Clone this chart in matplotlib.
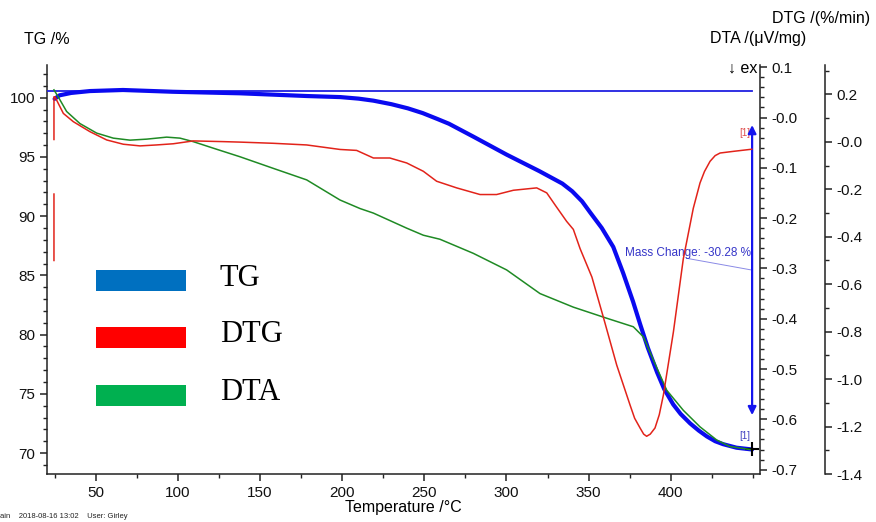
import numpy as np
import matplotlib
matplotlib.use("Agg")
import matplotlib.pyplot as plt
from matplotlib.patches import Rectangle
from matplotlib.ticker import FixedLocator, FormatStrFormatter

plt.rcParams['font.family'] = ['Liberation Sans', 'DejaVu Sans']
plt.rcParams['axes.unicode_minus'] = False

# ---------------- data ----------------
tg_temp = [25, 28, 35, 46.5, 66.6, 97, 138, 178.6, 199, 210, 219, 230, 240, 249, 258,
           265, 280, 300, 320, 328, 334, 340, 346, 351, 358, 365, 371, 377, 381.3,
           386, 391.7, 396, 401.5, 406, 411.8, 417, 422, 427, 431.8, 440, 449.5]
tg_val = [99.9, 100.2, 100.4, 100.56, 100.65, 100.5, 100.37, 100.14, 100.05, 99.92,
          99.75, 99.45, 99.1, 98.7, 98.2, 97.8, 96.7, 95.2, 93.8, 93.2, 92.75, 92.1,
          91.25, 90.3, 89.0, 87.4, 85.2, 82.8, 80.9, 78.9, 76.8, 75.4, 74.1, 73.3,
          72.5, 71.9, 71.4, 71.0, 70.75, 70.45, 70.30]

dtg_temp = [24.6, 24.6, 24.6, 24.6, 24.6, 25.2, 30.3, 36.4, 46.5, 56.7, 66.8, 77, 87,
            97.2, 109.4, 127.7, 137.8, 158, 178.4, 198.7, 208.8, 219, 229, 239.3,
            249.4, 257.5, 269.7, 283.9, 294, 304.2, 318.4, 324.5, 330, 336.6, 340.7,
            344.8, 352, 359, 367.1, 375.2, 378, 381.3, 383.5, 385.3, 387.5, 390.4,
            393, 395.5, 401.6, 407.6, 413.7, 417.8, 420.5, 423.9, 427, 430, 438.1,
            449.3]
dtg_val = [-0.50, -0.22, np.nan, 0.01, 0.19, 0.19, 0.12, 0.085, 0.043, 0.008, -0.010,
           -0.017, -0.013, -0.008, 0.004, 0.001, -0.001, -0.006, -0.013, -0.032,
           -0.036, -0.068, -0.068, -0.089, -0.124, -0.166, -0.194, -0.222, -0.222,
           -0.204, -0.194, -0.215, -0.27, -0.335, -0.369, -0.45, -0.57, -0.74, -0.941,
           -1.109, -1.165, -1.206, -1.232, -1.241, -1.232, -1.206, -1.15, -1.067,
           -0.801, -0.494, -0.28, -0.173, -0.125, -0.082, -0.058, -0.047, -0.040,
           -0.031]

dta_temp = [24.6, 27.2, 32.3, 40.4, 50.6, 60.7, 70.9, 81, 93.2, 101.3, 109.4, 121.6,
            137.8, 158, 178.4, 198.7, 210.9, 219, 239.3, 249.4, 259.5, 279.8, 300.1,
            320.4, 340.7, 361, 377.2, 383.3, 389.4, 397.5, 407.6, 417.8, 427.9, 436,
            448.2]
dta_val = [0.055, 0.041, 0.012, -0.012, -0.031, -0.041, -0.045, -0.043, -0.039, -0.041,
           -0.048, -0.061, -0.078, -0.101, -0.124, -0.164, -0.181, -0.190, -0.220,
           -0.234, -0.242, -0.270, -0.303, -0.350, -0.377, -0.399, -0.416, -0.436,
           -0.482, -0.542, -0.582, -0.615, -0.641, -0.654, -0.660]

legend_labels = ["TG", "DTG", "DTA"]
mass_change_text = "Mass Change: -30.28 %"
baseline_tg = 100.58
end_tg = 70.30

# ---------------- figure ----------------
W, H = 876, 522
fig = plt.figure(figsize=(W / 100, H / 100), dpi=100)
L, R, T, B = 47, 760, 65, 474
ax = fig.add_axes([L / W, 1 - B / H, (R - L) / W, (B - T) / H])
ax2 = ax.twinx()
ax3 = ax.twinx()

blue = '#0a0af0'
red = '#e2231a'
green = '#1f8a24'

ax.plot(tg_temp, tg_val, color=blue, lw=3.0, zorder=5, solid_capstyle='round',
        solid_joinstyle='round')
ax2.plot(dta_temp, dta_val, color=green, lw=1.1)
ax3.plot(dtg_temp, dtg_val, color=red, lw=1.1)

ax.set_xlim(20.36, 454.3)
ax.set_ylim(68.23, 102.76)
ax2.set_ylim(-0.7087, 0.1044)
ax3.set_ylim(-1.4, 0.324)

# spines
for a in (ax, ax2, ax3):
    a.spines['top'].set_visible(False)
    for s in a.spines.values():
        s.set_linewidth(1.1)
        s.set_color('#222222')
ax.spines['right'].set_visible(False)
for a in (ax2, ax3):
    a.spines['left'].set_visible(False)
    a.spines['bottom'].set_visible(False)
ax3.spines['right'].set_position(('outward', 65 * 0.72))

# ticks
ax.xaxis.set_major_locator(FixedLocator(np.arange(50, 401, 50)))
ax.xaxis.set_minor_locator(FixedLocator(np.arange(25, 451, 25)))
ax.yaxis.set_major_locator(FixedLocator(np.arange(70, 101, 5)))
ax.yaxis.set_minor_locator(FixedLocator(np.arange(69, 103, 1)))
ax2.yaxis.set_major_locator(FixedLocator(np.round(np.arange(-0.7, 0.11, 0.1), 2)))
ax2.yaxis.set_minor_locator(FixedLocator(np.round(np.arange(-0.7, 0.101, 0.02), 3)))
ax3.yaxis.set_major_locator(FixedLocator(np.round(np.arange(-1.4, 0.21, 0.2), 2)))
ax3.yaxis.set_minor_locator(FixedLocator(np.round(np.arange(-1.4, 0.31, 0.1), 2)))
ax2.yaxis.set_major_formatter(FormatStrFormatter('%.1f'))
ax3.yaxis.set_major_formatter(FormatStrFormatter('%.1f'))
for a in (ax, ax2, ax3):
    a.tick_params(which='major', direction='out', length=5, width=1.1,
                  labelsize=11, colors='#222222', labelcolor='#111111')
    a.tick_params(which='minor', direction='out', length=3, width=1.0, colors='#222222')

ax.set_xlabel('Temperature /°C', fontsize=11.5, labelpad=0)

# annotations on TG axes
ax.plot([ax.get_xlim()[0], 449.5], [baseline_tg, baseline_tg], color='#2020e0', lw=1.3, zorder=4)
ax.annotate('', xy=(449.5, 97.69), xytext=(449.5, 73.2),
            arrowprops=dict(arrowstyle='<|-|>', color='#1515ee', lw=1.6,
                            mutation_scale=12, shrinkA=0, shrinkB=0), zorder=6)
ax.plot([409.7, 449.3], [86.44, 85.45], color='#8a8ae6', lw=0.7, zorder=4)
ax.text(372.2, 86.87, mass_change_text, color='#3535c8', fontsize=8.5,
        ha='left', va='center', zorder=7)
ax.text(448.3, 97.0, '[1]', color='#e05050', fontsize=7, ha='right', va='center')
ax.text(448.3, 71.4, '[1]', color='#4040c0', fontsize=7, ha='right', va='center')
ax.plot([449.5], [end_tg], marker='+', color='black', markersize=10, mew=1.5, zorder=8)

# axis titles
fig.text(24 / W, 1 - 40 / H, 'TG /%', fontsize=11.5, ha='left', va='center')
fig.text(870 / W, 1 - 18 / H, 'DTG /(%/min)', fontsize=11.5, ha='right', va='center')
fig.text(758 / W, 1 - 38 / H, 'DTA /(μV/mg)', fontsize=11.5, ha='center', va='center')
fig.text(757 / W, 1 - 68 / H, '↓ ex', fontsize=11.5, ha='right', va='center')
fig.text(0, 1 - 517 / H, 'ain    2018-08-16 13:02    User: Girley', fontsize=5.5,
         ha='left', va='center', color='#222222')

# legend
leg_colors = ['#0070C0', '#FF0000', '#00B050']
leg_tops = [270, 327, 385]
for lab, c, ty in zip(legend_labels, leg_colors, leg_tops):
    fig.add_artist(Rectangle((96 / W, 1 - (ty + 21) / H), 90 / W, 21 / H,
                             transform=fig.transFigure, color=c, lw=0))
    fig.text(220 / W, 1 - (ty + 8) / H, lab, fontsize=22, ha='left', va='center',
             family=['Liberation Serif', 'DejaVu Serif'])

fig.savefig('out.png', dpi=100)
